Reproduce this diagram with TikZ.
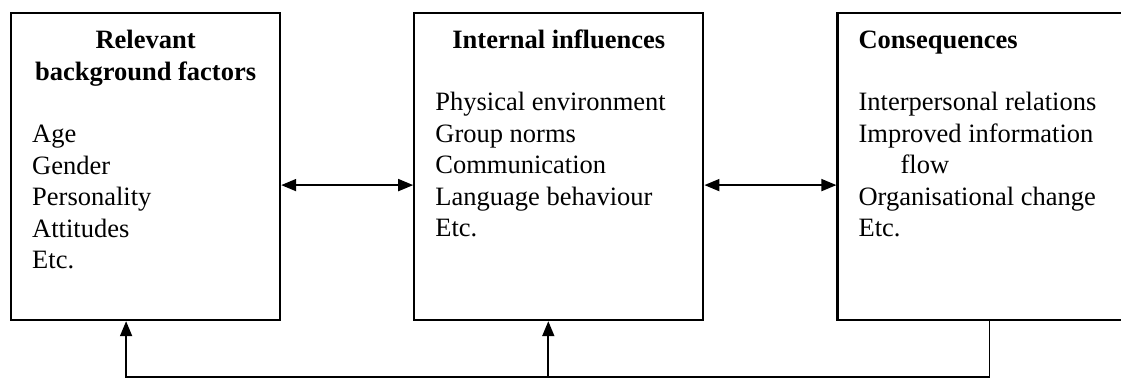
\documentclass[tikz,border=0pt]{standalone}
\usepackage{fontspec}
\setmainfont{Liberation Serif}[Ligatures=NoCommon]
\usetikzlibrary{positioning, arrows.meta}

\begin{document}
\begin{tikzpicture}[
    x=1pt, y=-1pt,
    >={Triangle[length=15pt, width=12pt]},
    every node/.style={font=\fontsize{26.5}{31.5}\selectfont, inner sep=0pt},
    factorbox/.style={draw, line width=2.2pt, minimum height=307pt},
    heading/.style={font=\fontsize{26.5}{31.5}\selectfont\bfseries, align=center, anchor=base},
    itemlist/.style={align=left, anchor=base west},
    link/.style={line width=1.8pt}
]
    \useasboundingbox (0,0) rectangle (1121,379);
    \clip (0,0) rectangle (1121,379);

    % The three boxes
    \node[factorbox, minimum width=269pt, anchor=north west] (bg) at (10,12) {};
    \node[factorbox, minimum width=289pt, right=132pt of bg] (infl) {};
    \node[factorbox, minimum width=304pt, right=132pt of infl] (cons) {};

    % Box texts (anchored on the last line)
    \node[heading] (bgHead) at ([yshift=-68.5pt]bg.north) {Relevant\\background factors};
    \node[itemlist] (bgList) at ([xshift=22pt, yshift=-257pt]bg.north west)
        {Age\\Gender\\Personality\\Attitudes\\Etc.};

    \node[heading] (inflHead) at ([yshift=-37pt]infl.north) {Internal influences};
    \node[itemlist] (inflList) at ([xshift=22pt, yshift=-225pt]infl.north west)
        {Physical environment\\Group norms\\Communication\\Language behaviour\\Etc.};

    \node[heading, anchor=base west] (consHead) at ([xshift=22pt, yshift=-37pt]cons.north west) {Consequences};
    \node[itemlist] (consList) at ([xshift=22pt, yshift=-225pt]cons.north west)
        {Interpersonal relations\\Improved information\\\hspace*{42pt}flow\\Organisational change\\Etc.};

    % Two-way links between the boxes
    \draw[link, <->] ([yshift=-18.5pt]bg.east) -- ([yshift=-18.5pt]infl.west);
    \draw[link, <->] ([yshift=-18.5pt]infl.east) -- ([yshift=-18.5pt]cons.west);

    % Feedback loop
    \coordinate (loop) at (0,377);
    \draw[link, ->] (cons.south) -- (cons.south |- loop) -| ([xshift=-19.5pt]bg.south);
    \draw[link, ->] ([xshift=-10.5pt]infl.south |- loop) -- ([xshift=-10.5pt]infl.south);
\end{tikzpicture}
\end{document}
